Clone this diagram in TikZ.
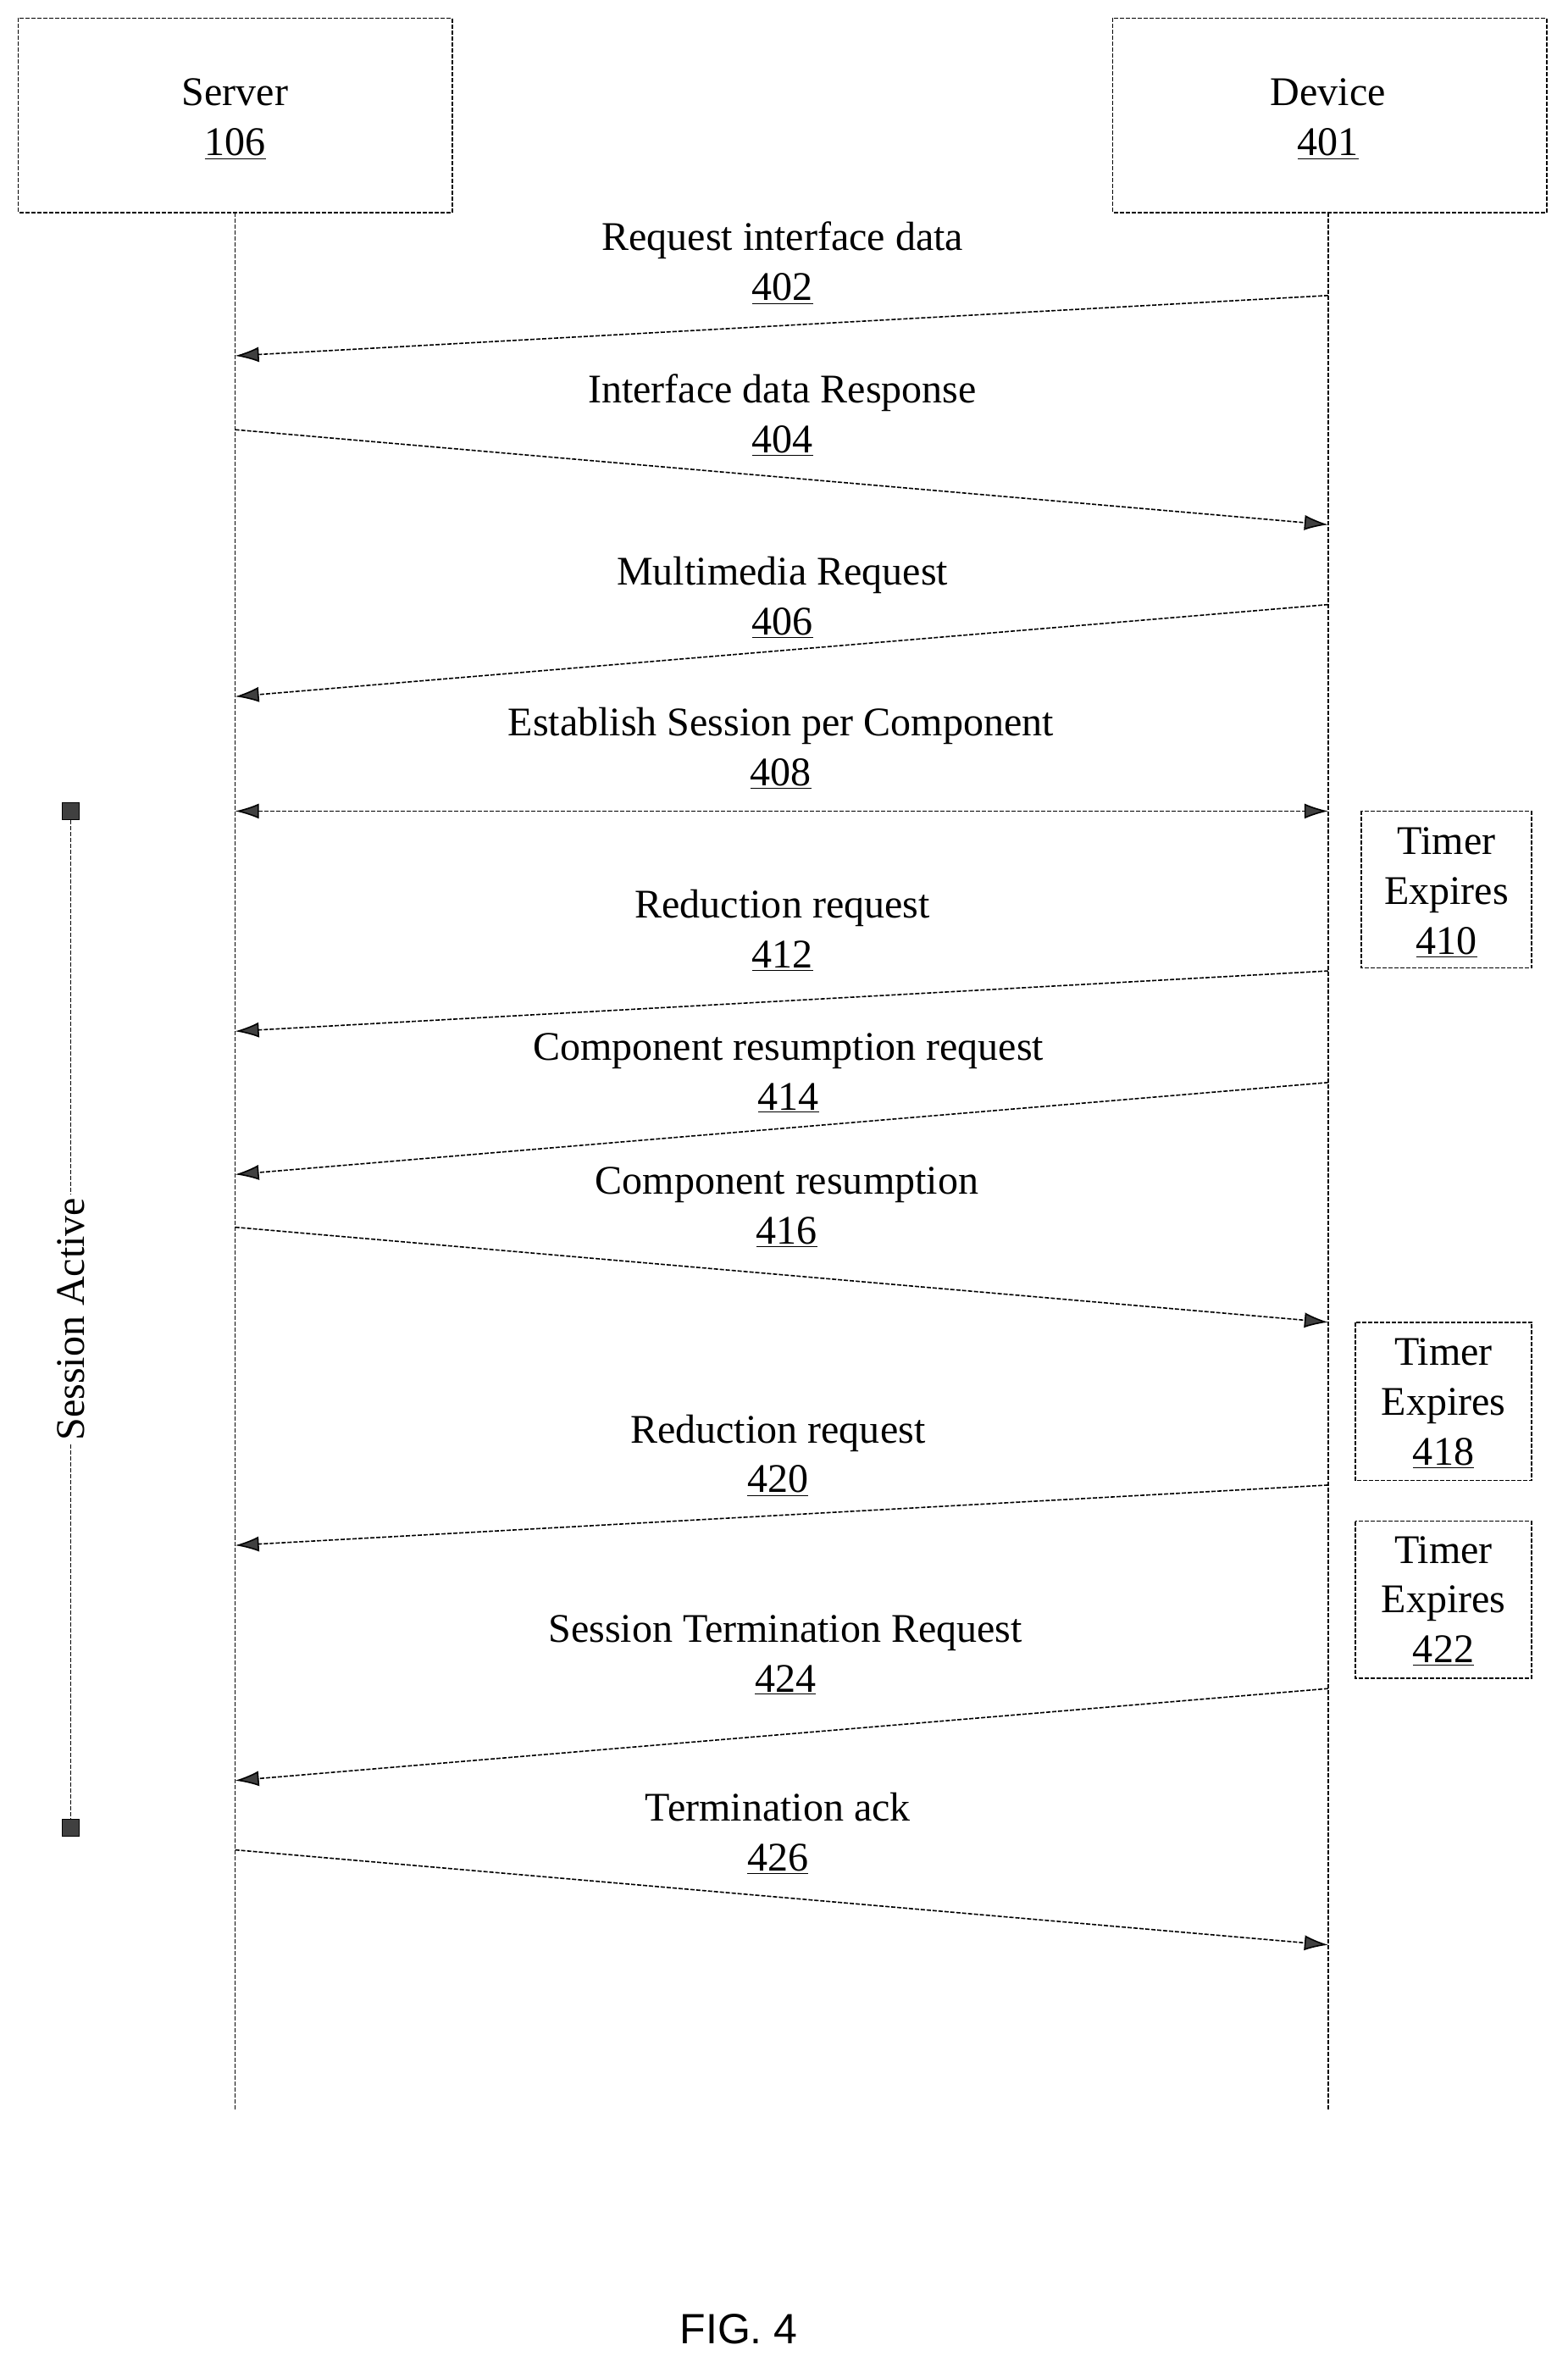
\documentclass[tikz,border=0pt]{standalone}
\usepackage{fontspec}
\setmainfont{Liberation Serif}
\newfontfamily\figfont{Liberation Sans}
\usetikzlibrary{arrows.meta}
\begin{document}
\begin{tikzpicture}[x=0.8895pt,y=-0.8895pt,
  dl/.style={line width=0.8pt,dash pattern=on 2.5pt off 1pt},
  box/.style={dl,draw},
  msg/.style={dl,-{Latex[length=14pt,width=9pt,fill=black!75]}},
  dmsg/.style={dl,{Latex[length=14pt,width=9pt,fill=black!75]}-{Latex[length=14pt,width=9pt,fill=black!75]}},
  lab/.style={font=\fontsize{24}{29.4}\selectfont,align=center,inner sep=0pt},
  endmark/.style={draw,fill=black!75,minimum size=10pt,inner sep=0pt}]
\useasboundingbox (0,0) rectangle (1040,1570);
\draw[box] (12,12) rectangle (300,141);
\draw[box] (738,12) rectangle (1026,141);
\node[lab] (server) at (156,79) {Server\\\underline{106}};
\node[lab] (device) at (881,79) {Device\\\underline{401}};
\coordinate (s0) at (156,141); \coordinate (s1) at (156,1400);
\coordinate (d0) at (881,141); \coordinate (d1) at (881,1400);
\draw[dl] (s0) -- (s1); \draw[dl] (d0) -- (d1);
\node[lab,anchor=north] at (519,147) {Request interface data\\\underline{402}};
\draw[msg] (881,196) coordinate (m402a) -- (156,236) coordinate (m402b);
\node[lab,anchor=north] at (519,248) {Interface data Response\\\underline{404}};
\draw[msg] (156,285) coordinate (m404a) -- (881,348) coordinate (m404b);
\node[lab,anchor=north] at (519,369) {Multimedia Request\\\underline{406}};
\draw[msg] (881,401) coordinate (m406a) -- (156,462) coordinate (m406b);
\node[lab,anchor=north] at (518,469) {Establish Session per Component\\\underline{408}};
\draw[dmsg] (156,538) coordinate (m408a) -- (881,538) coordinate (m408b);
\node[lab,anchor=north] at (519,590) {Reduction request\\\underline{412}};
\draw[msg] (881,644) coordinate (m412a) -- (156,684) coordinate (m412b);
\node[lab,anchor=north] at (523,685) {Component resumption request\\\underline{414}};
\draw[msg] (881,718) coordinate (m414a) -- (156,779) coordinate (m414b);
\node[lab,anchor=north] at (522,774) {Component resumption\\\underline{416}};
\draw[msg] (156,814) coordinate (m416a) -- (881,877) coordinate (m416b);
\node[lab,anchor=north] at (516,938) {Reduction request\\\underline{420}};
\draw[msg] (881,985) coordinate (m420a) -- (156,1025) coordinate (m420b);
\node[lab,anchor=north] at (521,1071) {Session Termination Request\\\underline{424}};
\draw[msg] (881,1120) coordinate (m424a) -- (156,1181) coordinate (m424b);
\node[lab,anchor=north] at (516,1189) {Termination ack\\\underline{426}};
\draw[msg] (156,1227) coordinate (m426a) -- (881,1290) coordinate (m426b);
% timers
\draw[box] (903,538) rectangle (1016,642);
\node[lab] (t410) at (959.5,592) {Timer\\Expires\\\underline{410}};
\draw[box] (899,877) rectangle (1016,982);
\node[lab] (t418) at (957.5,931) {Timer\\Expires\\\underline{418}};
\draw[box] (899,1009) rectangle (1016,1113);
\node[lab] (t422) at (957.5,1062) {Timer\\Expires\\\underline{422}};
% session active
\node[endmark] (sa0) at (47,538) {};
\node[endmark] (sa1) at (47,1212) {};
\node[lab,rotate=90,fill=white,inner sep=2pt] (sat) at (47,875) {Session Active};
\draw[dl] (sa0) -- (sat); \draw[dl] (sat) -- (sa1);
\node[font=\figfont\fontsize{25}{30}\selectfont] (fig) at (490,1545) {FIG. 4};
\end{tikzpicture}
\end{document}
